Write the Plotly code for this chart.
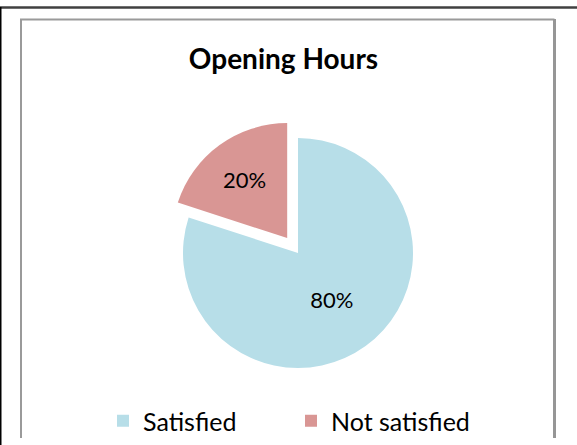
import plotly.graph_objects as go

labels = ["Satisfied", "Not satisfied"]
values = [80, 20]
colors = ["#B7DEE8", "#D99694"]
pulls = [0, 0.16]
title_text = "Opening Hours"

W, H = 577, 445

def px(x):
    return x / W

def py(y):
    return 1 - y / H

fig = go.Figure(go.Pie(
    labels=labels,
    values=values,
    marker=dict(colors=colors, line=dict(width=0)),
    pull=pulls,
    sort=False,
    direction="clockwise",
    rotation=0,
    textinfo="percent",
    textposition="inside",
    insidetextorientation="horizontal",
    textfont=dict(family="Lato", size=22, color="#000000"),
    domain=dict(x=[px(298 - 133.4), px(298 + 133.4)],
                y=[py(253 + 133.4), py(253 - 133.4)]),
    hoverinfo="label+percent",
))

shapes = [
    # outer top line
    dict(type="line", xref="paper", yref="paper", x0=0, x1=1, y0=py(7.5), y1=py(7.5),
         line=dict(color="#404040", width=2.5)),
    # outer left line
    dict(type="line", xref="paper", yref="paper", x0=px(0.5), x1=px(0.5), y0=py(7), y1=0,
         line=dict(color="#000000", width=2)),
    # inner frame left + top
    dict(type="path", xref="paper", yref="paper",
         path=f"M {px(21)} {py(438)} L {px(21)} {py(19.5)} L {px(554.5)} {py(19.5)}",
         line=dict(color="#9a9a9a", width=2)),
    # inner frame right
    dict(type="line", xref="paper", yref="paper", x0=px(554.5), x1=px(554.5),
         y0=py(19), y1=py(438), line=dict(color="#969696", width=3)),
]

fig.update_layout(
    width=W, height=H,
    margin=dict(l=0, r=0, t=0, b=0),
    paper_bgcolor="#ffffff",
    plot_bgcolor="#ffffff",
    font=dict(family="Lato", color="#000000"),
    title=dict(text="<b>" + title_text + "</b>", x=px(283.5), xanchor="center",
               y=py(59), yanchor="middle",
               font=dict(family="Lato", size=28, color="#000000")),
    showlegend=True,
    legend=dict(orientation="h", x=px(103), xanchor="left", y=py(421), yanchor="middle",
                font=dict(family="Lato", size=25, color="#000000"),
                entrywidth=143, traceorder="normal", bgcolor="rgba(0,0,0,0)"),
    shapes=shapes,
)

fig.write_html("out.html", config={"displayModeBar": False},
               post_script="document.body.style.margin='0px';document.body.style.overflow='hidden';")
